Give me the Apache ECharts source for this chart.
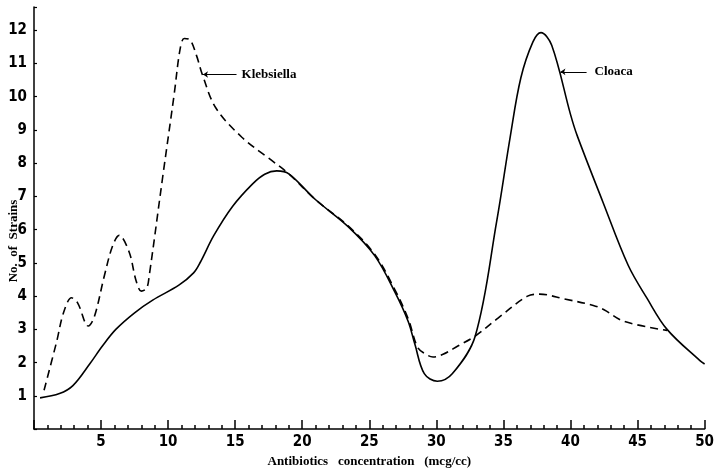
<!DOCTYPE html>
<html>
<head>
<meta charset="utf-8">
<script src="https://cdn.jsdelivr.net/npm/echarts@6/dist/echarts.min.js"></script>
<style>
  html, body { margin: 0; padding: 0; background: #fff; }
  #main { width: 717px; height: 473px; }
</style>
</head>
<body>
<div id="main"></div>
<script>
// Cloaca (solid curve)
const cloacaX = [0.45, 1.9, 2.9, 4.15, 5.1, 6.1, 7.5, 8.85, 10.8, 11.9, 12.4, 13.4, 14.8, 16.3, 17.2, 18.1, 19.0, 21.0, 23.4, 25.4, 26.9, 27.9, 28.4, 29.1, 30.07, 31.2, 32.9, 34.5, 35.5, 36.3, 37.2, 37.8, 38.6, 40.0, 40.5, 42.4, 44.3, 45.7, 47.2, 49.65, 50];
const cloacaY = [0.94, 1.07, 1.31, 1.96, 2.5, 3.0, 3.5, 3.88, 4.33, 4.7, 5.02, 5.82, 6.7, 7.38, 7.67, 7.77, 7.68, 6.9, 6.1, 5.22, 4.13, 3.24, 2.55, 1.67, 1.44, 1.67, 2.8, 6.26, 8.78, 10.57, 11.65, 11.93, 11.55, 9.47, 8.83, 6.85, 4.93, 3.94, 3.0, 2.06, 1.96];

// Klebsiella (dashed curve)
const klebX = [0.75, 1.7, 2.2, 2.8, 3.25, 4.05, 4.5, 5.25, 5.85, 6.35, 7.1, 7.6, 8.0, 8.4, 8.6, 9.6, 10.45, 10.9, 11.2, 11.6, 12.1, 12.55, 13.55, 15.5, 17.5, 19.0, 21.0, 23.4, 25.4, 26.9, 27.9, 28.6, 29.15, 29.75, 30.5, 31.6, 32.9, 34.6, 36.8, 37.7, 39.5, 41.7, 42.5, 44.0, 47.2];
const klebY = [1.17, 2.65, 3.5, 3.95, 3.8, 3.1, 3.38, 4.62, 5.5, 5.83, 5.32, 4.48, 4.15, 4.24, 4.64, 7.6, 10.07, 11.45, 11.75, 11.72, 11.26, 10.67, 9.67, 8.78, 8.15, 7.68, 6.9, 6.12, 5.26, 4.2, 3.32, 2.46, 2.27, 2.17, 2.25, 2.5, 2.8, 3.34, 4.0, 4.06, 3.92, 3.72, 3.59, 3.24, 2.97];

const xTitle = 'Antibiotics   concentration   (mcg/cc)';
const yTitle = 'No.  of  Strains';

const numFont = "'Liberation Sans Narrow', 'DejaVu Sans Condensed', sans-serif";
const serifFont = "'Liberation Serif', 'DejaVu Serif', serif";

function pairs(xs, ys) {
  return xs.map(function (x, i) { return [x, ys[i]]; });
}

var chart = echarts.init(document.getElementById('main'));

var labelStyle = { color: '#000', fontFamily: serifFont, fontWeight: 'bold', fontSize: 13 };

var option = {
  animation: false,
  backgroundColor: '#fff',
  grid: { left: 34, right: 9, top: 7, bottom: 37 },
  xAxis: [
    {
      type: 'value',
      min: 0,
      max: 50,
      interval: 5,
      splitLine: { show: false },
      axisLine: { show: true, lineStyle: { color: '#000', width: 1.5 } },
      axisTick: { show: true, inside: true, length: 9, lineStyle: { color: '#000', width: 1.5 } },
      axisLabel: {
        margin: 6,
        color: '#000',
        fontFamily: numFont,
        fontWeight: 'bold',
        fontSize: 15,
        formatter: function (v) { return v === 0 ? '' : String(v); }
      },
      name: xTitle,
      nameLocation: 'middle',
      nameGap: 25,
      nameTextStyle: { color: '#000', fontFamily: serifFont, fontWeight: 'bold', fontSize: 13 }
    },
    {
      // minor ticks, one per unit
      type: 'value',
      position: 'bottom',
      min: 0,
      max: 50,
      interval: 1,
      splitLine: { show: false },
      axisLine: { show: false },
      axisTick: { show: true, inside: true, length: 4, lineStyle: { color: '#000', width: 1.5 } },
      axisLabel: { show: false }
    }
  ],
  yAxis: {
    type: 'value',
    min: 0,
    max: 12.7,
    interval: 1,
    splitLine: { show: false },
    axisLine: { show: true, lineStyle: { color: '#000', width: 1.5 } },
    axisTick: { show: true, inside: true, length: 3, lineStyle: { color: '#000', width: 1.2 } },
    axisLabel: {
      margin: 7,
      color: '#000',
      fontFamily: numFont,
      fontWeight: 'bold',
      fontSize: 15,
      formatter: function (v) { return (v === 0 || v % 1 !== 0) ? '' : String(v); }
    }
  },
  graphic: [{
    type: 'text',
    x: 14,
    y: 241,
    rotation: Math.PI / 2,
    style: {
      text: yTitle,
      fill: '#000',
      font: 'bold 13px ' + serifFont,
      textAlign: 'center',
      textVerticalAlign: 'middle'
    }
  }],
  series: [
    {
      name: 'Cloaca',
      type: 'line',
      data: pairs(cloacaX, cloacaY),
      smooth: 0.35,
      showSymbol: false,
      lineStyle: { color: '#000', width: 1.6 },
      markLine: {
        silent: true,
        symbol: ['arrow', 'none'],
        symbolSize: 5,
        lineStyle: { color: '#000', width: 1, type: 'solid' },
        label: Object.assign({ show: true, position: 'end', distance: 8, formatter: 'Cloaca' }, labelStyle),
        data: [[{ coord: [39.25, 10.75] }, { coord: [41.2, 10.75] }]]
      }
    },
    {
      name: 'Klebsiella',
      type: 'line',
      data: pairs(klebX, klebY),
      smooth: 0.35,
      showSymbol: false,
      lineStyle: { color: '#000', width: 1.6, type: [8, 5] },
      markLine: {
        silent: true,
        symbol: ['arrow', 'none'],
        symbolSize: 5,
        lineStyle: { color: '#000', width: 1, type: 'solid' },
        label: Object.assign({ show: true, position: 'end', distance: 5, formatter: 'Klebsiella' }, labelStyle),
        data: [[{ coord: [12.6, 10.67] }, { coord: [15.1, 10.67] }]]
      }
    }
  ]
};

chart.setOption(option);
</script>
</body>
</html>
